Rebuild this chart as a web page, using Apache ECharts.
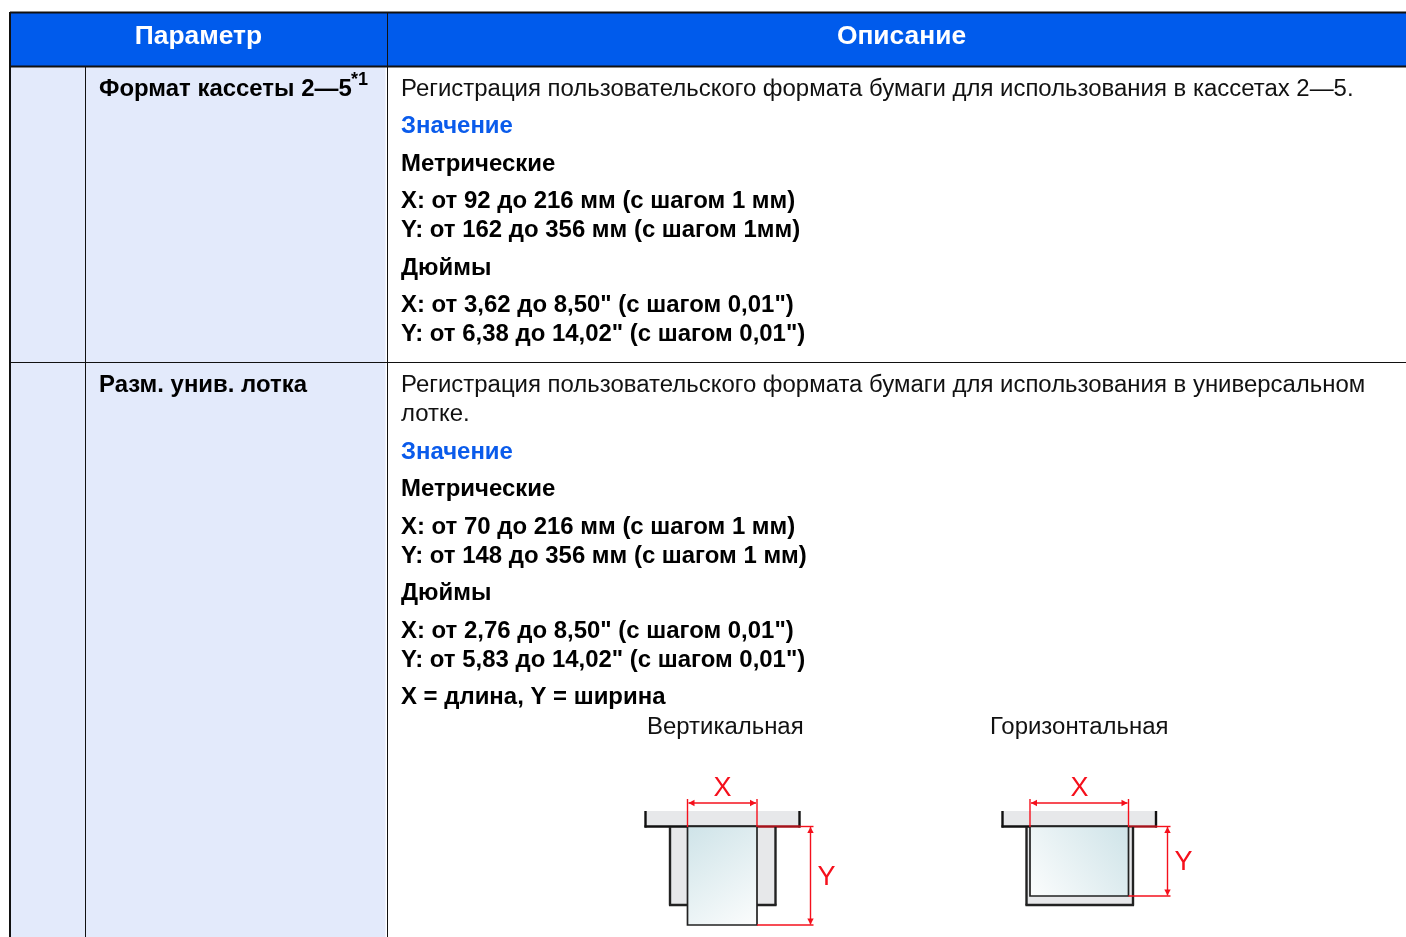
<!DOCTYPE html>
<html><head><meta charset="utf-8">
<style>html,body{margin:0;padding:0;background:#fff;overflow:hidden}#c{width:1406px;height:937px}</style>
<script src="https://cdn.jsdelivr.net/npm/echarts@6/dist/echarts.min.js"></script>
</head><body><div id="c"></div>
<script>
const headers = ['Параметр', 'Описание'];
const rowNames = ['Формат кассеты 2—5', 'Разм. унив. лотка'];
const footnote = '*1';
const row1Lines = [
  ['Регистрация пользовательского формата бумаги для использования в кассетах 2—5.', 'n'],
  ['Значение', 'v'],
  ['Метрические', 'b'],
  ['X: от 92 до 216 мм (с шагом 1 мм)', 'b'],
  ['Y: от 162 до 356 мм (с шагом 1мм)', 'b'],
  ['Дюймы', 'b'],
  ['X: от 3,62 до 8,50" (с шагом 0,01")', 'b'],
  ['Y: от 6,38 до 14,02" (с шагом 0,01")', 'b']
];
const row2Lines = [
  ['Регистрация пользовательского формата бумаги для использования в универсальном', 'n'],
  ['лотке.', 'n'],
  ['Значение', 'v'],
  ['Метрические', 'b'],
  ['X: от 70 до 216 мм (с шагом 1 мм)', 'b'],
  ['Y: от 148 до 356 мм (с шагом 1 мм)', 'b'],
  ['Дюймы', 'b'],
  ['X: от 2,76 до 8,50" (с шагом 0,01")', 'b'],
  ['Y: от 5,83 до 14,02" (с шагом 0,01")', 'b'],
  ['X = длина, Y = ширина', 'b']
];
const captions = ['Вертикальная', 'Горизонтальная'];

const FONT = '"Liberation Sans", Arial, sans-serif';
const RED = '#f5101c', BLK = '#111', BLUE = '#005bec', PALE = '#e3eafb', TRAY = '#e7e8ea';
const row1Y = [89.5, 126.5, 164.5, 201.5, 230.5, 268.5, 305.5, 334.5];
const row2Y = [385.5, 414.5, 452.5, 489.5, 527.5, 556.5, 593.5, 631.5, 660.5, 697.5];
const els = [];
const rect = (x, y, w, h, fill, stroke, lw) => els.push({type:'rect', shape:{x, y, width:w, height:h}, style:{fill, stroke:stroke||null, lineWidth:lw||0}, silent:true});
const line = (x1, y1, x2, y2, c, w) => els.push({type:'line', shape:{x1, y1, x2, y2}, style:{stroke:c, lineWidth:w}, silent:true});
const poly = (points, c) => els.push({type:'polygon', shape:{points}, style:{fill:c}, silent:true});
const text = (t, x, y, size, weight, fill, align) => els.push({type:'text', x, y, style:{text:t, fontFamily:FONT, fontSize:size, fontWeight:weight, fill, align:align||'left', verticalAlign:'middle'}, silent:true});

// table
rect(10, 13, 1396, 54, BLUE);
rect(10, 67, 375.5, 870, PALE);
line(10, 12.5, 1406, 12.5, BLK, 2);
line(10, 66.5, 1406, 66.5, BLK, 2);
line(10, 12, 10, 937, BLK, 2);
line(85.5, 67, 85.5, 937, BLK, 1);
line(387.5, 13, 387.5, 937, BLK, 1);
line(10, 362.5, 1406, 362.5, BLK, 1);

text(headers[0], 198.5, 37, 26.4, 'bold', '#fff', 'center');
text(headers[1], 901.5, 37, 26.4, 'bold', '#fff', 'center');
text(rowNames[0], 99, 89.5, 23.95, 'bold', '#000');
text(footnote, 351, 80.5, 18, 'bold', '#000');
text(rowNames[1], 99, 385.5, 23.95, 'bold', '#000');
const styleOf = k => k === 'n' ? ['normal', '#111'] : k === 'v' ? ['bold', '#0a5beb'] : ['bold', '#000'];
const drawLines = (arr, ys) => arr.forEach((l, i) => { const s = styleOf(l[1]); text(l[0], 401, ys[i], 23.95, s[0], s[1]); });
drawLines(row1Lines, row1Y);
drawLines(row2Lines, row2Y);
text(captions[0], 647, 727.5, 23.95, 'normal', '#111');
text(captions[1], 990, 727.5, 23.95, 'normal', '#111');

function arrowH(x1, x2, y) {
  line(x1, y, x2, y, RED, 1.4);
  poly([[x1, y], [x1+6, y-3.2], [x1+6, y+3.2]], RED);
  poly([[x2, y], [x2-6, y-3.2], [x2-6, y+3.2]], RED);
}
function arrowV(x, y1, y2) {
  line(x, y1, x, y2, RED, 1.4);
  poly([[x, y1], [x-3.2, y1+6], [x+3.2, y1+6]], RED);
  poly([[x, y2], [x-3.2, y2-6], [x+3.2, y2-6]], RED);
}
function diagram(d) {
  // tray
  rect(d.tl, 811, d.tr - d.tl, 15.5, TRAY);
  rect(d.bl, 827, d.br - d.bl, 78, TRAY);
  line(d.tl, 811, d.tl, 827.5, BLK, 2.4);
  line(d.tr, 811, d.tr, 827.5, BLK, 2.4);
  line(d.tl - 1, 826.5, d.pr, 826.5, BLK, 2.4);
  line(d.pr, 826.5, d.tr + 1, 826.5, '#a5121a', 2.4);
  line(d.bl, 827, d.bl, 905.5, '#222', 2.4);
  line(d.br, 827, d.br, 905.5, '#222', 2.4);
  line(d.bl - 1, 905, d.br + 1, 905, '#222', 2.4);
  // paper
  els.push({type:'rect', shape:{x:d.pl, y:826.5, width:d.pr-d.pl, height:d.pb-826.5},
    style:{fill:new echarts.graphic.LinearGradient(d.gx0, 0, d.gx1, 1, [{offset:0, color:'#cee3e8'}, {offset:1, color:'#fcfdfd'}]), stroke:'#222', lineWidth:1.7}, silent:true});
  // dimensions
  line(d.pl, 799, d.pl, 827, RED, 1.4);
  line(d.pr, 799, d.pr, 827, RED, 1.4);
  arrowH(d.pl + 1, d.pr - 1, 803);
  line(d.tr + 1, 826.5, d.ye, 826.5, RED, 1.4);
  line(d.pr, d.pb, d.ye, d.pb, RED, 1.4);
  arrowV(d.ye - 3, 827, d.pb - 0.5);
  text('X', d.xText, 789, 27, 'normal', RED, 'center');
  text('Y', d.yText, d.yTextY, 27, 'normal', RED, 'center');
}
diagram({tl:645.5, tr:799.5, bl:670, br:775.5, pl:687.5, pr:757, pb:925, gx0:0, gx1:1, ye:813.5, xText:722.5, yText:826.5, yTextY:878});
diagram({tl:1002.5, tr:1156, bl:1026.5, br:1133, pl:1030, pr:1128.5, pb:896, gx0:1, gx1:0, ye:1170.5, xText:1079.5, yText:1183.5, yTextY:863});

const chart = echarts.init(document.getElementById('c'), null, {renderer:'canvas', width:1406, height:937});
chart.setOption({animation:false, backgroundColor:'#fff', graphic:{elements:els}});
</script></body></html>
